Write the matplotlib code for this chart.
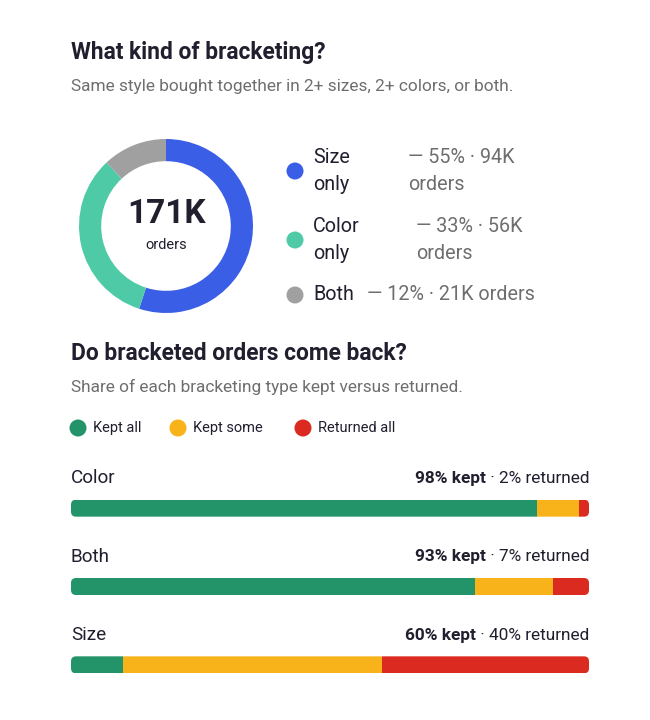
import matplotlib
matplotlib.use('Agg')
import matplotlib.pyplot as plt
from matplotlib.patches import FancyBboxPatch

plt.rcParams['font.family'] = ['Roboto', 'DejaVu Sans']

# donut data
mix_labels = ['Size\nonly', 'Color\nonly', 'Both']
mix_share = [55, 33, 12]
mix_orders = ['94K', '56K', '21K']
mix_colors = ['#3b5ee6', '#4ecba6', '#a0a0a0']
total_orders = '171K'

# outcome bars
bar_labels = ['Color', 'Both', 'Size']
kept_all = [90, 78, 10]
kept_some = [8, 15, 50]
returned_all = [2, 7, 40]
outcome_names = ['Kept all', 'Kept some', 'Returned all']
outcome_colors = ['#23946a', '#f8b31a', '#db2a1f']

DARK = '#211e2e'
GRAY = '#6e6e6e'

W, H = 650, 720
fig = plt.figure(figsize=(W / 100, H / 100), dpi=100)
fig.patch.set_facecolor('white')

# page axes in pixel coordinates
ax = fig.add_axes([0, 0, 1, 1])
ax.set_xlim(0, W)
ax.set_ylim(H, 0)
ax.axis('off')

def box(x0, y0, x1, y1):
    return [x0 / W, 1 - y1 / H, (x1 - x0) / W, (y1 - y0) / H]

ax.text(71, 52, 'What kind of bracketing?', fontsize=16.4, fontweight='bold',
        color=DARK, va='center')
ax.text(71, 87, 'Same style bought together in 2+ sizes, 2+ colors, or both.',
        fontsize=12.4, color=GRAY, va='center')

# donut
dax = fig.add_axes(box(79, 139, 253, 313))
dax.pie(mix_share, colors=mix_colors, startangle=90, counterclock=False,
        radius=1, wedgeprops=dict(width=0.255, edgecolor='none'))
dax.set_xlim(-1, 1)
dax.set_ylim(-1, 1)
dax.set_aspect('equal')
dax.text(0, 0.14, total_orders, fontsize=24, fontweight='bold', color=DARK,
         ha='center', va='center')
dax.text(0, -0.22, 'orders', fontsize=10.5, color=DARK, ha='center', va='center')

# donut legend
leg_y = [171, 240, 295]
val_x = [408, 416, 367]
for i, lab in enumerate(mix_labels):
    ax.scatter([295], [leg_y[i]], s=150, color=mix_colors[i], edgecolors='none')
    ax.text(313, leg_y[i], lab, fontsize=14.2, color=DARK, va='center',
            linespacing=1.47)
    if '\n' in lab:
        val = f'— {mix_share[i]}% · {mix_orders[i]}\norders'
    else:
        val = f'— {mix_share[i]}% · {mix_orders[i]} orders'
    ax.text(val_x[i], leg_y[i], val, fontsize=14.2, color=GRAY, va='center',
            linespacing=1.47)

# section 2
ax.text(71, 353, 'Do bracketed orders come back?', fontsize=16.4, fontweight='bold',
        color=DARK, va='center')
ax.text(71, 387, 'Share of each bracketing type kept versus returned.',
        fontsize=12.4, color=GRAY, va='center')

dot_x = [78, 178, 303]
for i, name in enumerate(outcome_names):
    ax.scatter([dot_x[i]], [428], s=150, color=outcome_colors[i], edgecolors='none')
    ax.text(dot_x[i] + 15, 428, name, fontsize=10.5, color=DARK, va='center')

# bars
bx0, by0, bx1, by1 = 71, 469, 589, 704
bax = fig.add_axes(box(bx0, by0, bx1, by1))
bax.set_xlim(0, 100)
bax.set_ylim(len(bar_labels) - 0.5, -0.5)
bax.axis('off')
ypos = list(range(len(bar_labels)))
bh = 0.217
px_x = (bx1 - bx0) / 100
px_y = (by1 - by0) / len(bar_labels)
segs = [kept_all, kept_some, returned_all]
for i in ypos:
    clip = FancyBboxPatch((0, i - bh / 2), 100, bh,
                          boxstyle='round,pad=0,rounding_size=%.3f' % (5 / px_x),
                          mutation_aspect=px_x / px_y,
                          transform=bax.transData, facecolor='none', edgecolor='none')
    bax.add_patch(clip)
    left = 0
    for k, seg in enumerate(segs):
        bars = bax.barh([i], [seg[i]], left=left, height=bh, color=outcome_colors[k],
                        edgecolor='none')
        for b in bars:
            b.set_clip_path(clip)
        left += seg[i]
    bax.text(0, i - 0.38, bar_labels[i], fontsize=13.6, color=DARK, va='center')
    kept = kept_all[i] + kept_some[i]
    t = bax.text(100, i - 0.38, f' · {returned_all[i]}% returned', fontsize=12.4,
                 color=DARK, ha='right', va='center')
    bax.annotate(f'{kept}% kept', xy=(0, 0.5), xycoords=t, fontsize=12.4,
                 fontweight='bold', color=DARK, ha='right', va='center')

fig.savefig('out.png', dpi=100, facecolor='white')
